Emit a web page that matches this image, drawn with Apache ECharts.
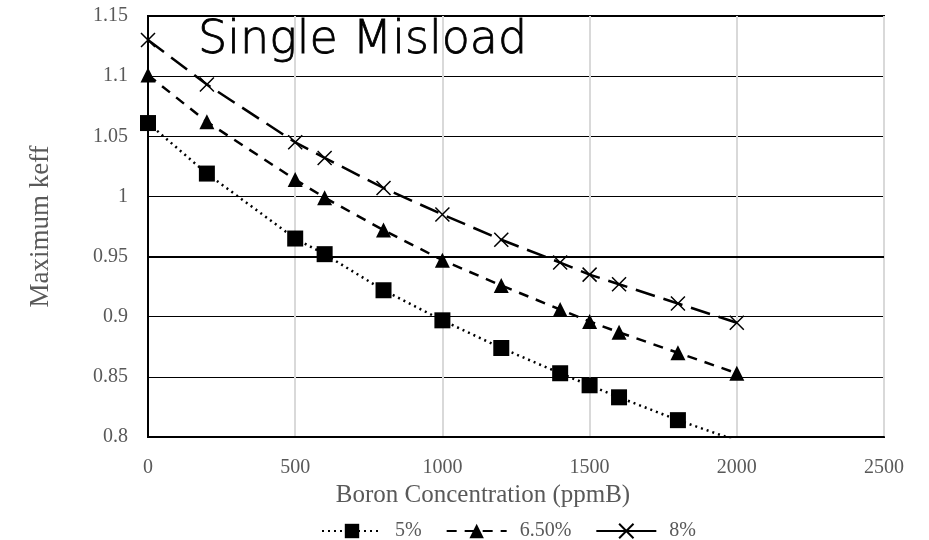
<!DOCTYPE html>
<html>
<meta charset="UTF-8">
<title>single-misload</title>
<style type="text/css">
    html,
    body {
        margin: 0px;
        height: 100%;
        width: 100%;
        background: #fff;
    }

    #chart {
        width: 929px;
        height: 540px;
    }
</style>
<script src="https://cdn.jsdelivr.net/npm/echarts@6/dist/echarts.min.js"></script>

<body>
    <div id="chart"></div>
    <script>
        // boron concentration (ppmB)
        const boron = [0, 200, 500, 600, 800, 1000, 1200, 1400, 1500, 1600, 1800, 2000];
        // maximum keff per enrichment
        const keff5 = [1.061, 1.019, 0.965, 0.952, 0.922, 0.897, 0.874, 0.853, 0.843, 0.833, 0.814, 0.797];
        const keff65 = [1.101, 1.062, 1.014, 0.999, 0.972, 0.947, 0.926, 0.906, 0.896, 0.887, 0.870, 0.853];
        const keff8 = [1.130, 1.093, 1.045, 1.032, 1.007, 0.985, 0.964, 0.945, 0.935, 0.927, 0.911, 0.895];
        const seriesNames = ['5%', '6.50%', '8%'];

        const serif = '"Liberation Serif", "DejaVu Serif", serif';
        const crossPath = 'path://M0,0L10,10M10,0L0,10';

        function pairs(ys) {
            return boron.map((x, i) => [x, ys[i]]);
        }

        const chart = echarts.init(document.querySelector('#chart'));

        const options = {
            animation: false,
            backgroundColor: '#fff',
            title: {
                text: 'Single Misload',
                left: 193,
                top: 13,
                textStyle: {
                    fontFamily: '"DejaVu Sans", sans-serif',
                    fontWeight: 200,
                    fontSize: 46,
                    color: '#000',
                    textBorderColor: '#000',
                    textBorderWidth: 0.8
                }
            },
            grid: {
                left: 148,
                right: 45,
                top: 16,
                bottom: 103,
                show: true,
                borderColor: '#000',
                borderWidth: 2,
                backgroundColor: 'transparent'
            },
            legend: {
                left: 316,
                bottom: -6,
                itemWidth: 60,
                itemHeight: 18,
                itemGap: 24,
                textStyle: { fontFamily: serif, fontSize: 20, color: '#595959', padding: [0, 0, 0, 8] },
                data: [
                    { name: seriesNames[0] },
                    { name: seriesNames[1] },
                    { name: seriesNames[2], lineStyle: { type: 'solid' } }
                ]
            },
            xAxis: {
                type: 'value',
                min: 0,
                max: 2500,
                interval: 500,
                name: 'Boron Concentration (ppmB)',
                nameLocation: 'middle',
                nameGap: 40,
                nameTextStyle: { fontFamily: serif, fontSize: 25, color: '#595959', padding: [0, 66, 0, 0] },
                axisLine: { lineStyle: { color: '#000', width: 2 } },
                axisTick: { show: false },
                axisLabel: { fontFamily: serif, fontSize: 20, color: '#595959', margin: 21, formatter: v => String(v) },
                splitLine: { show: true, lineStyle: { color: '#d9d9d9', width: 2 } }
            },
            yAxis: {
                type: 'value',
                min: 0.8,
                max: 1.15,
                interval: 0.05,
                name: 'Maximum keff',
                nameLocation: 'middle',
                nameGap: 94,
                nameTextStyle: { fontFamily: serif, fontSize: 27, color: '#595959' },
                axisLine: { lineStyle: { color: '#000', width: 2 } },
                axisTick: { show: false },
                axisLabel: { fontFamily: serif, fontSize: 20, color: '#595959', margin: 20 },
                splitLine: { show: true, lineStyle: { color: '#000', width: 1 } }
            },
            series: [
                {
                    name: seriesNames[0],
                    type: 'line',
                    data: pairs(keff5),
                    symbol: 'rect',
                    symbolSize: 16,
                    itemStyle: { color: '#000' },
                    lineStyle: { color: '#000', width: 2.5, type: [2, 4] },
                    markLine: {
                        silent: true,
                        symbol: 'none',
                        label: { show: false },
                        lineStyle: { color: '#000', width: 2, type: 'solid' },
                        data: [{ yAxis: 0.95 }]
                    }
                },
                {
                    name: seriesNames[1],
                    type: 'line',
                    data: pairs(keff65),
                    symbol: 'triangle',
                    symbolSize: 15,
                    itemStyle: { color: '#000' },
                    lineStyle: { color: '#000', width: 2.5, type: [10, 8] }
                },
                {
                    name: seriesNames[2],
                    type: 'line',
                    data: pairs(keff8),
                    symbol: crossPath,
                    symbolSize: 14,
                    itemStyle: { color: 'none', borderColor: '#000', borderWidth: 1.5 },
                    lineStyle: { color: '#000', width: 2.5, type: [20, 9] }
                }
            ]
        };
        chart.setOption(options);
    </script>
</body>

</html>
